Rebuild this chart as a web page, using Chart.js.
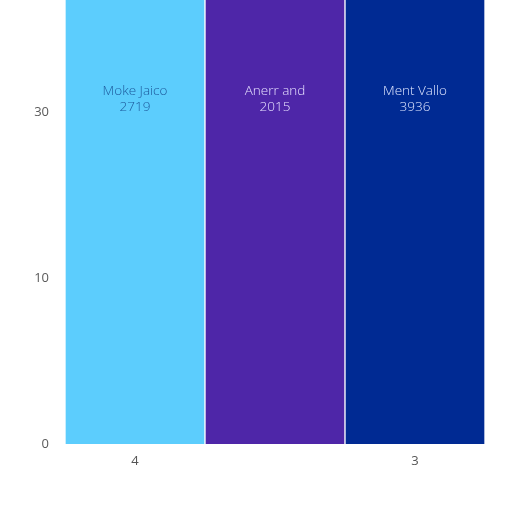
<!DOCTYPE html>
<html>
<head>
<meta charset="utf-8">
<script src="https://cdn.jsdelivr.net/npm/chart.js@4/dist/chart.umd.min.js"></script>
<style>
  html, body { margin: 0; padding: 0; background: #ffffff; }
  #wrap { width: 512px; height: 512px; }
</style>
</head>
<body>
<div id="wrap"><canvas id="barCanvas" width="512" height="512"></canvas></div>
<script>
// chart values
const categories = ['4', '', '3'];
const barNames = ['Moke Jaico', 'Anerr and', 'Ment Vallo'];
const barValues = [2719, 2015, 3936];
const barColors = ['#5ccdfd', '#4e26a8', '#002a93'];
const barTextColors = ['#1d5a9c', '#e6e0ff', '#dfe6ff'];
const yTickValues = [0, 10, 20];
const yTickLabels = ['0', '10', '30'];

/* writes name + value inside the top part of every bar */
const barTextPlugin = {
  id: 'barText',
  afterDatasetsDraw(chart) {
    const { ctx, chartArea } = chart;
    const bars = chart.getDatasetMeta(0).data;
    ctx.save();
    ctx.textAlign = 'center';
    ctx.textBaseline = 'middle';
    ctx.font = '300 13.5px "Open Sans", sans-serif';
    bars.forEach((bar, i) => {
      ctx.fillStyle = barTextColors[i];
      ctx.fillText(barNames[i], bar.x, chartArea.top + 91);
      ctx.fillText(String(barValues[i]), bar.x, chartArea.top + 107);
    });
    ctx.restore();
  },
};

const ctx = document.getElementById('barCanvas').getContext('2d');

new Chart(ctx, {
  type: 'bar',
  data: {
    labels: categories,
    datasets: [
      {
        data: barValues,
        backgroundColor: barColors,
        borderColor: '#ffffff',
        borderWidth: 1,
        borderSkipped: 'bottom',
        barPercentage: 1,
        categoryPercentage: 1,
      },
    ],
  },
  options: {
    responsive: false,
    animation: false,
    layout: { padding: { top: 0, right: 27, bottom: 0, left: 0 } },
    plugins: {
      legend: { display: false },
      tooltip: { enabled: false },
    },
    scales: {
      x: {
        grid: { display: false },
        border: { display: false },
        ticks: {
          color: '#555555',
          font: { family: '"Open Sans", sans-serif', size: 13 },
          padding: 1,
        },
        afterFit(scale) {
          scale.height = 68;
          scale.paddingLeft = 0;
          scale.paddingRight = 0;
        },
      },
      y: {
        min: 0,
        max: 26.8,
        grid: { display: false },
        border: { display: false },
        afterBuildTicks(scale) {
          scale.ticks = yTickValues.map(v => ({ value: v }));
        },
        ticks: {
          color: '#5a5a5a',
          font: { family: '"Open Sans", sans-serif', size: 13 },
          padding: 8,
          callback: (value, index) => yTickLabels[index],
        },
        afterFit(scale) {
          scale.width = 65;
          scale.paddingTop = 0;
          scale.paddingBottom = 0;
        },
      },
    },
  },
  plugins: [barTextPlugin],
});
</script>
</body>
</html>
